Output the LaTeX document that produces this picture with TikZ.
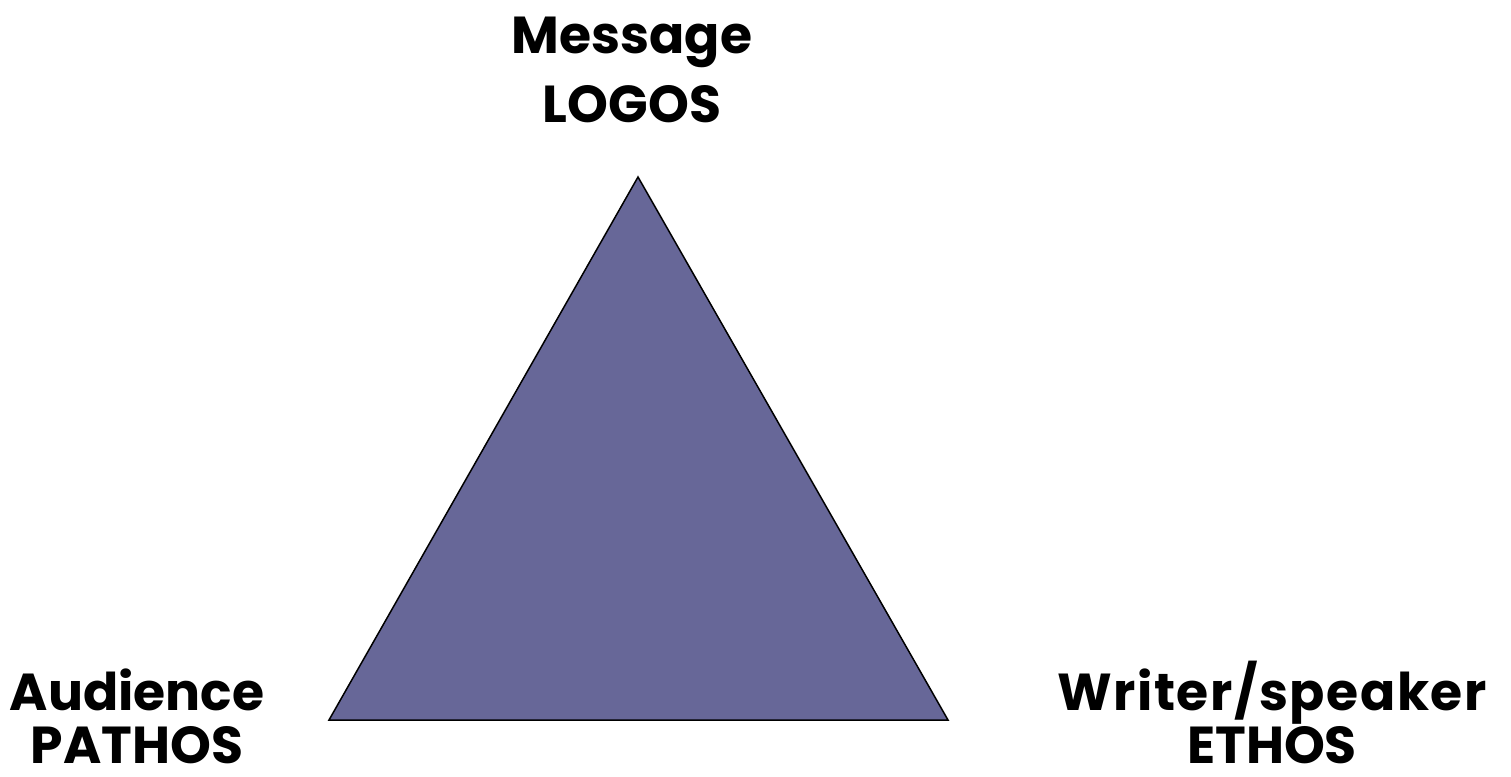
\documentclass[tikz,border=0pt]{standalone}
\usepackage{fontspec}
\setmainfont{Poppins}
\definecolor{trifill}{HTML}{676798}
\begin{document}
\begin{tikzpicture}[x=1pt,y=1pt,
  lbl/.style={anchor=base,inner sep=0pt,font=\fontsize{52}{60}\selectfont\bfseries}]
\useasboundingbox (0,0) rectangle (1511,776);
\coordinate (top) at (638,599);
\coordinate (bl) at (329,56);
\coordinate (br) at (948,56);
\filldraw[fill=trifill,draw=black,line width=1.5pt,line join=miter] (top) -- (bl) -- (br) -- cycle;
\node[lbl] (m1) at (632,722) {Message};
\node[lbl] (m2) at (632,653) {LOGOS};
\node[lbl] (a1) at (137,66) {Audience};
\node[lbl] (a2) at (137,13) {PATHOS};
\node[lbl] (w1) at (1272,66) {\addfontfeature{LetterSpace=3}Writer/speaker};
\node[lbl] (w2) at (1272,13) {ETHOS};
\end{tikzpicture}
\end{document}
